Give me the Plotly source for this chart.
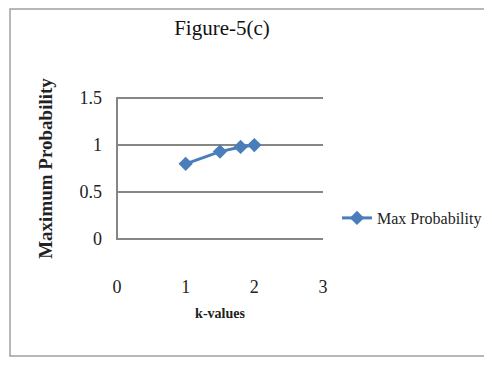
import plotly.graph_objects as go

k_values = [1, 1.5, 1.8, 2]
max_prob = [0.8, 0.93, 0.98, 1.0]
x_ticks = [0, 1, 2, 3]
y_ticks = [0, 0.5, 1, 1.5]
y_tick_text = ["0", "0.5", "1", "1.5"]

serif = "Liberation Serif, Times New Roman, serif"

W, H = 484, 349
L, R, T, B = 109, 315, 89, 232
pw, ph = R - L, B - T

fig = go.Figure()
fig.add_trace(go.Scatter(
    x=k_values, y=max_prob, mode="lines+markers", name="Max Probability",
    line=dict(color="#4A7EBB", width=3),
    marker=dict(symbol="diamond", size=11, color="#4A7EBB"),
))

fig.update_layout(
    width=W, height=H, autosize=False,
    margin=dict(l=L, r=W - R, t=T, b=H - B, autoexpand=False),
    paper_bgcolor="white", plot_bgcolor="white",
    font=dict(family=serif, color="#222"),
    title=dict(text="Figure-5(c)", x=214 / W, xanchor="center", y=1 - 20 / H, yanchor="middle",
               font=dict(size=21, family=serif, color="#111")),
    showlegend=True,
    legend=dict(x=(329 - L) / pw, y=(B - 210) / ph, xanchor="left", yanchor="middle",
                font=dict(size=16, family=serif, color="#222"), bgcolor="rgba(0,0,0,0)",
                itemwidth=30),
    xaxis=dict(range=[0, 3], tickvals=x_ticks, ticktext=[str(v) for v in x_ticks],
               showgrid=False, zeroline=True, zerolinecolor="#868686", zerolinewidth=1.5,
               showline=False, ticks="",
               ticklabelstandoff=34, tickfont=dict(size=18, family=serif),
               title=dict(text="<b>k-values</b>", font=dict(size=14, family=serif), standoff=12)),
    yaxis=dict(range=[-0.012, 1.512], tickvals=y_ticks, ticktext=y_tick_text,
               showgrid=True, gridcolor="#868686", gridwidth=1.5, zeroline=False,
               showline=False, ticks="",
               ticklabelstandoff=14, tickfont=dict(size=18, family=serif),
               title=dict(text="<b>Maximum Probability</b>", font=dict(size=19, family=serif), standoff=21)),
)

fig.add_shape(type="rect", xref="paper", yref="paper",
              x0=(2 - L) / pw, x1=(482 - L) / pw, y0=(B - 348) / ph, y1=(B - 1) / ph,
              line=dict(color="#a0a0a0", width=1.5), fillcolor="rgba(0,0,0,0)", layer="below")

fig.write_html("out.html")
